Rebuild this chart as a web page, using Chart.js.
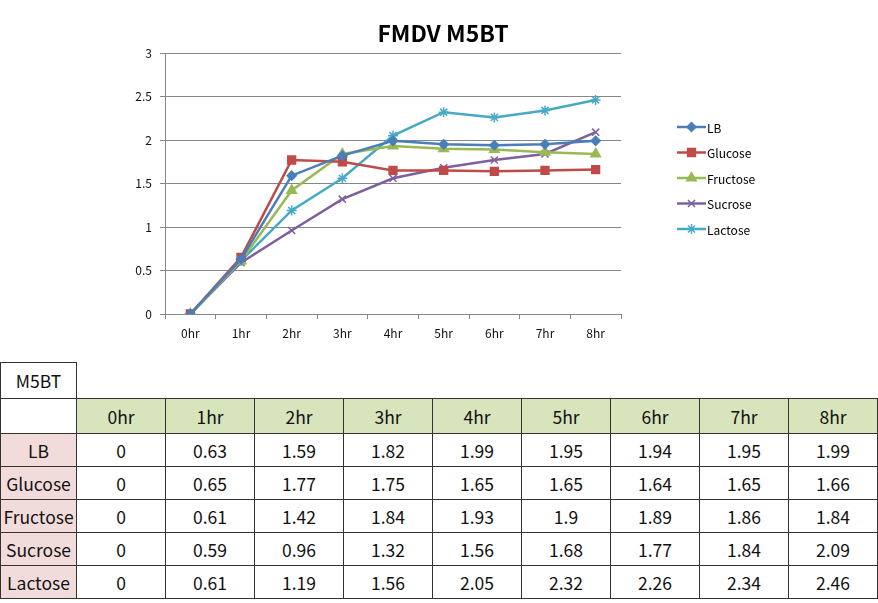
<!DOCTYPE html>
<html>
<head>
<meta charset="utf-8">
<script src="https://cdn.jsdelivr.net/npm/chart.js@4.4.1/dist/chart.umd.min.js"></script>
<style>
  body { margin:0; background:#fff; width:878px; height:603px; overflow:hidden; font-family:"Noto Sans CJK KR","Noto Sans",sans-serif; }
  #wrap { position:absolute; left:0; top:0; width:878px; height:355px; }
  table { position:absolute; left:0; top:362px; border-collapse:collapse; table-layout:fixed; font-size:17.5px; color:#111; }
  td { text-align:center; padding:0; white-space:nowrap; overflow:hidden; border:1px solid #333; }
  td.hd { background:#d8e4bc; }
  td.rl { background:#f2dcdb; }
</style>
</head>
<body>
<div id="wrap"><canvas id="grafico" width="878" height="355"></canvas></div>
<table id="tabela"></table>
<script>
// DADOS
const categorias = ["0hr","1hr","2hr","3hr","4hr","5hr","6hr","7hr","8hr"];
const serieLB       = [0, 0.63, 1.59, 1.82, 1.99, 1.95, 1.94, 1.95, 1.99];
const serieGlucose  = [0, 0.65, 1.77, 1.75, 1.65, 1.65, 1.64, 1.65, 1.66];
const serieFructose = [0, 0.61, 1.42, 1.84, 1.93, 1.9, 1.89, 1.86, 1.84];
const serieSucrose  = [0, 0.59, 0.96, 1.32, 1.56, 1.68, 1.77, 1.84, 2.09];
const serieLactose  = [0, 0.61, 1.19, 1.56, 2.05, 2.32, 2.26, 2.34, 2.46];
const nomes = ["LB","Glucose","Fructose","Sucrose","Lactose"];
const titulo = "FMDV M5BT";
const tituloTabela = "M5BT";

const series = [serieLB, serieGlucose, serieFructose, serieSucrose, serieLactose];
const cores = ["#4a7ebb","#be4b48","#98b954","#7d60a0","#46aac5"];
const estilos = ["rectRot","rect","triangle","crossRot","star"];
const raios = [4.5, 5.5, 5.5, 5, 5];

const FONTE = '"Noto Sans CJK KR","Noto Sans",sans-serif';

// titulo e legenda desenhados a mao
const extras = {
  id: "extras",
  afterDraw(chart) {
    const ctx = chart.ctx;
    ctx.save();
    ctx.fillStyle = "#000";
    ctx.font = "bold 23px " + FONTE;
    ctx.textAlign = "center";
    ctx.textBaseline = "middle";
    ctx.fillText(titulo, 443, 33);

    ctx.font = "12px " + FONTE;
    ctx.textAlign = "left";
    chart.data.datasets.forEach((ds, i) => {
      const y = 127 + i * 25.5;
      ctx.strokeStyle = ds.borderColor;
      ctx.fillStyle = ds.borderColor;
      ctx.lineWidth = 2.5;
      ctx.beginPath(); ctx.moveTo(677, y); ctx.lineTo(706, y); ctx.stroke();
      ctx.lineWidth = 1.5;
      Chart.helpers.drawPoint(ctx, {
        pointStyle: ds.pointStyle, radius: ds.pointRadius, rotation: 0, borderWidth: 1.5
      }, 691.5, y);
      ctx.fillStyle = "#000";
      ctx.fillText(ds.label, 707, y + 1);
    });
    ctx.restore();
  }
};

const ctx = document.getElementById("grafico");
new Chart(ctx, {
  type: "line",
  data: {
    labels: categorias,
    datasets: nomes.map((n, i) => ({
      label: n,
      data: series[i],
      borderColor: cores[i],
      backgroundColor: cores[i],
      pointBackgroundColor: cores[i],
      pointBorderColor: cores[i],
      pointStyle: estilos[i],
      pointRadius: raios[i],
      pointBorderWidth: 1.5,
      borderWidth: 2.5,
      tension: 0
    }))
  },
  options: {
    responsive: false,
    animation: false,
    layout: { padding: { left: 130, right: 257, top: 53, bottom: 0 } },
    plugins: { legend: { display: false }, title: { display: false }, tooltip: { enabled: false } },
    scales: {
      x: {
        offset: true,
        afterFit(s) { s.height = 41; },
        grid: { display: true, drawOnChartArea: false, offset: true, tickLength: 5, color: "#868686" },
        border: { color: "#868686", width: 1 },
        ticks: { padding: 7, color: "#111", font: { size: 12, family: FONTE } }
      },
      y: {
        min: 0, max: 3,
        afterFit(s) { s.width = 35; },
        ticks: { stepSize: 0.5, padding: 8, color: "#111", font: { size: 12, family: FONTE }, callback: v => String(v) },
        grid: { color: "#868686", tickLength: 5 },
        border: { color: "#868686", width: 1 }
      }
    }
  },
  plugins: [extras]
});

// TABELA
const tabela = document.getElementById("tabela");
const semBorda = 'style="border:none;border-bottom:1px solid #333"';
let html = '<colgroup><col style="width:76px">' + categorias.map(() => '<col style="width:89px">').join("") + '</colgroup>';
html += '<tr style="height:36px"><td>' + tituloTabela + '</td>' + categorias.map(() => '<td ' + semBorda + '></td>').join("") + '</tr>';
html += '<tr style="height:35px"><td></td>' + categorias.map(c => '<td class="hd">' + c + '</td>').join("") + '</tr>';
nomes.forEach((n, i) => {
  html += '<tr style="height:33px"><td class="rl">' + n + '</td>' + series[i].map(v => '<td>' + v + '</td>').join("") + '</tr>';
});
tabela.innerHTML = html;
</script>
</body>
</html>
